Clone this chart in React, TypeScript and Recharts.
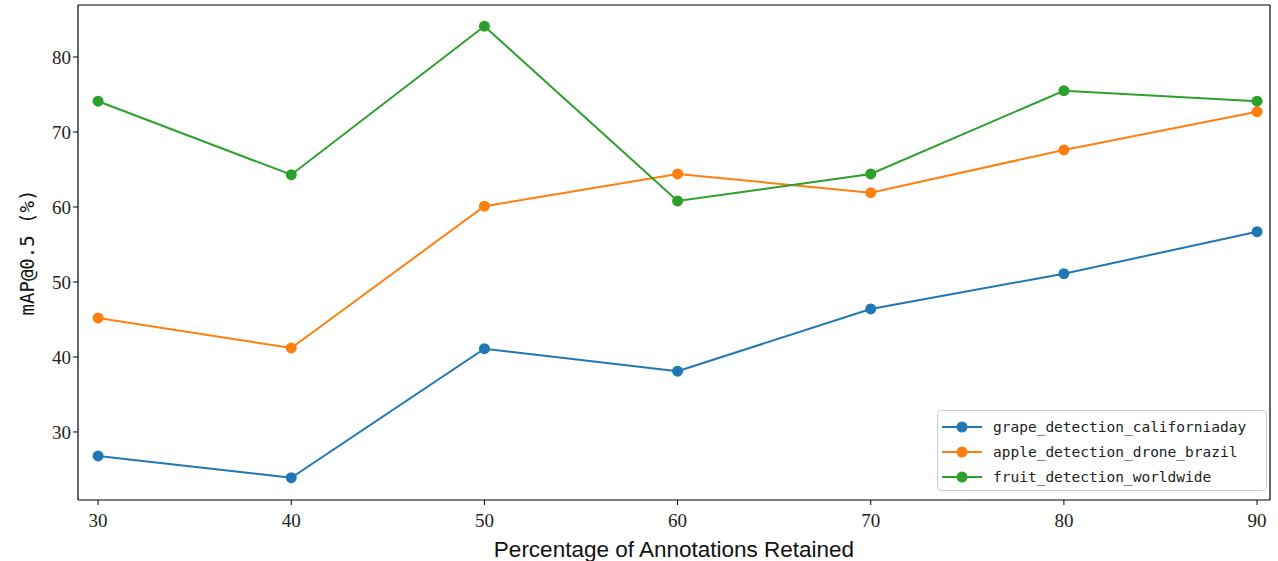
import React from "react";
import { LineChart, Line, XAxis, YAxis, ReferenceLine } from "recharts";

const percentages = [30, 40, 50, 60, 70, 80, 90];

const grapeCalifornia = [26.8, 23.9, 41.1, 38.1, 46.4, 51.1, 56.7];
const appleBrazil = [45.2, 41.2, 60.1, 64.4, 61.9, 67.6, 72.7];
const fruitWorldwide = [74.1, 64.3, 84.1, 60.8, 64.4, 75.5, 74.1];

const seriesNames = [
  "grape_detection_californiaday",
  "apple_detection_drone_brazil",
  "fruit_detection_worldwide",
];
const seriesColors = ["#1f77b4", "#ff7f0e", "#2ca02c"];

const xTicks = [30, 40, 50, 60, 70, 80, 90];
const yTicks = [30, 40, 50, 60, 70, 80];

const X_DOMAIN: [number, number] = [28.96, 90.67];
const Y_DOMAIN: [number, number] = [20.93, 86.93];

const data = percentages.map((p, i) => ({
  pct: p,
  s0: grapeCalifornia[i],
  s1: appleBrazil[i],
  s2: fruitWorldwide[i],
}));

const tickStyle = {
  fill: "#222",
  fontFamily: "'Liberation Serif', 'DejaVu Serif', serif",
  fontSize: 19,
};

// legend drawn as an overlay so it doesn't eat into the plot area
const LegendBox = () => (
  <div
    style={{
      position: "absolute",
      left: 937,
      top: 410,
      width: 330,
      height: 81,
      border: "1px solid #d0d0d0",
      borderRadius: 4,
      background: "rgba(255,255,255,0.8)",
      boxSizing: "border-box",
      paddingTop: 3,
    }}
  >
    {seriesNames.map((name, i) => (
      <div
        key={name}
        style={{ display: "flex", alignItems: "center", height: 25 }}
      >
        <svg width={46} height={24} style={{ marginLeft: 2 }}>
          <line
            x1={2}
            y1={12}
            x2={42}
            y2={12}
            stroke={seriesColors[i]}
            strokeWidth={2}
          />
          <circle cx={22} cy={12} r={5.5} fill={seriesColors[i]} />
        </svg>
        <span
          style={{
            marginLeft: 7,
            fontFamily: "'DejaVu Sans Mono', 'Liberation Mono', monospace",
            fontSize: 14.5,
            color: "#222",
          }}
        >
          {name}
        </span>
      </div>
    ))}
  </div>
);

export default function App() {
  return (
    <div
      style={{
        position: "absolute",
        left: 0,
        top: 0,
        width: 1278,
        height: 561,
        background: "#fff",
      }}
    >
      <LineChart
        width={1278}
        height={561}
        data={data}
        margin={{ top: 5, right: 8, left: 18, bottom: 0 }}
      >
        <XAxis
          dataKey="pct"
          type="number"
          domain={X_DOMAIN}
          ticks={xTicks}
          height={61}
          tick={{ ...tickStyle, dy: 7 }}
          tickLine={{ stroke: "#000" }}
          tickSize={5}
          axisLine={{ stroke: "#000", strokeWidth: 1.2 }}
          allowDataOverflow
          label={{
            value: "Percentage of Annotations Retained",
            position: "insideBottom",
            offset: 4,
            style: {
              fill: "#111",
              fontFamily: "'Liberation Sans', 'DejaVu Sans', sans-serif",
              fontSize: 22.5,
            },
          }}
        />
        <YAxis
          type="number"
          domain={Y_DOMAIN}
          ticks={yTicks}
          width={60}
          tick={tickStyle}
          tickLine={{ stroke: "#000" }}
          tickSize={5}
          axisLine={{ stroke: "#000", strokeWidth: 1.2 }}
          allowDataOverflow
          label={{
            value: "mAP@0.5 (%)",
            angle: -90,
            position: "center",
            dx: -21,
            style: {
              fill: "#111",
              fontFamily: "'DejaVu Sans Mono', 'Liberation Mono', monospace",
              fontSize: 19,
              textAnchor: "middle",
            },
          }}
        />
        <ReferenceLine y={Y_DOMAIN[1]} stroke="#000" strokeWidth={1.2} />
        <ReferenceLine x={X_DOMAIN[1]} stroke="#000" strokeWidth={1.2} />
        {["s0", "s1", "s2"].map((key, i) => (
          <Line
            key={key}
            dataKey={key}
            name={seriesNames[i]}
            stroke={seriesColors[i]}
            strokeWidth={2}
            dot={{
              r: 5.5,
              fill: seriesColors[i],
              stroke: seriesColors[i],
              strokeWidth: 0,
            }}
            activeDot={false}
            isAnimationActive={false}
          />
        ))}
      </LineChart>
      <LegendBox />
    </div>
  );
}
